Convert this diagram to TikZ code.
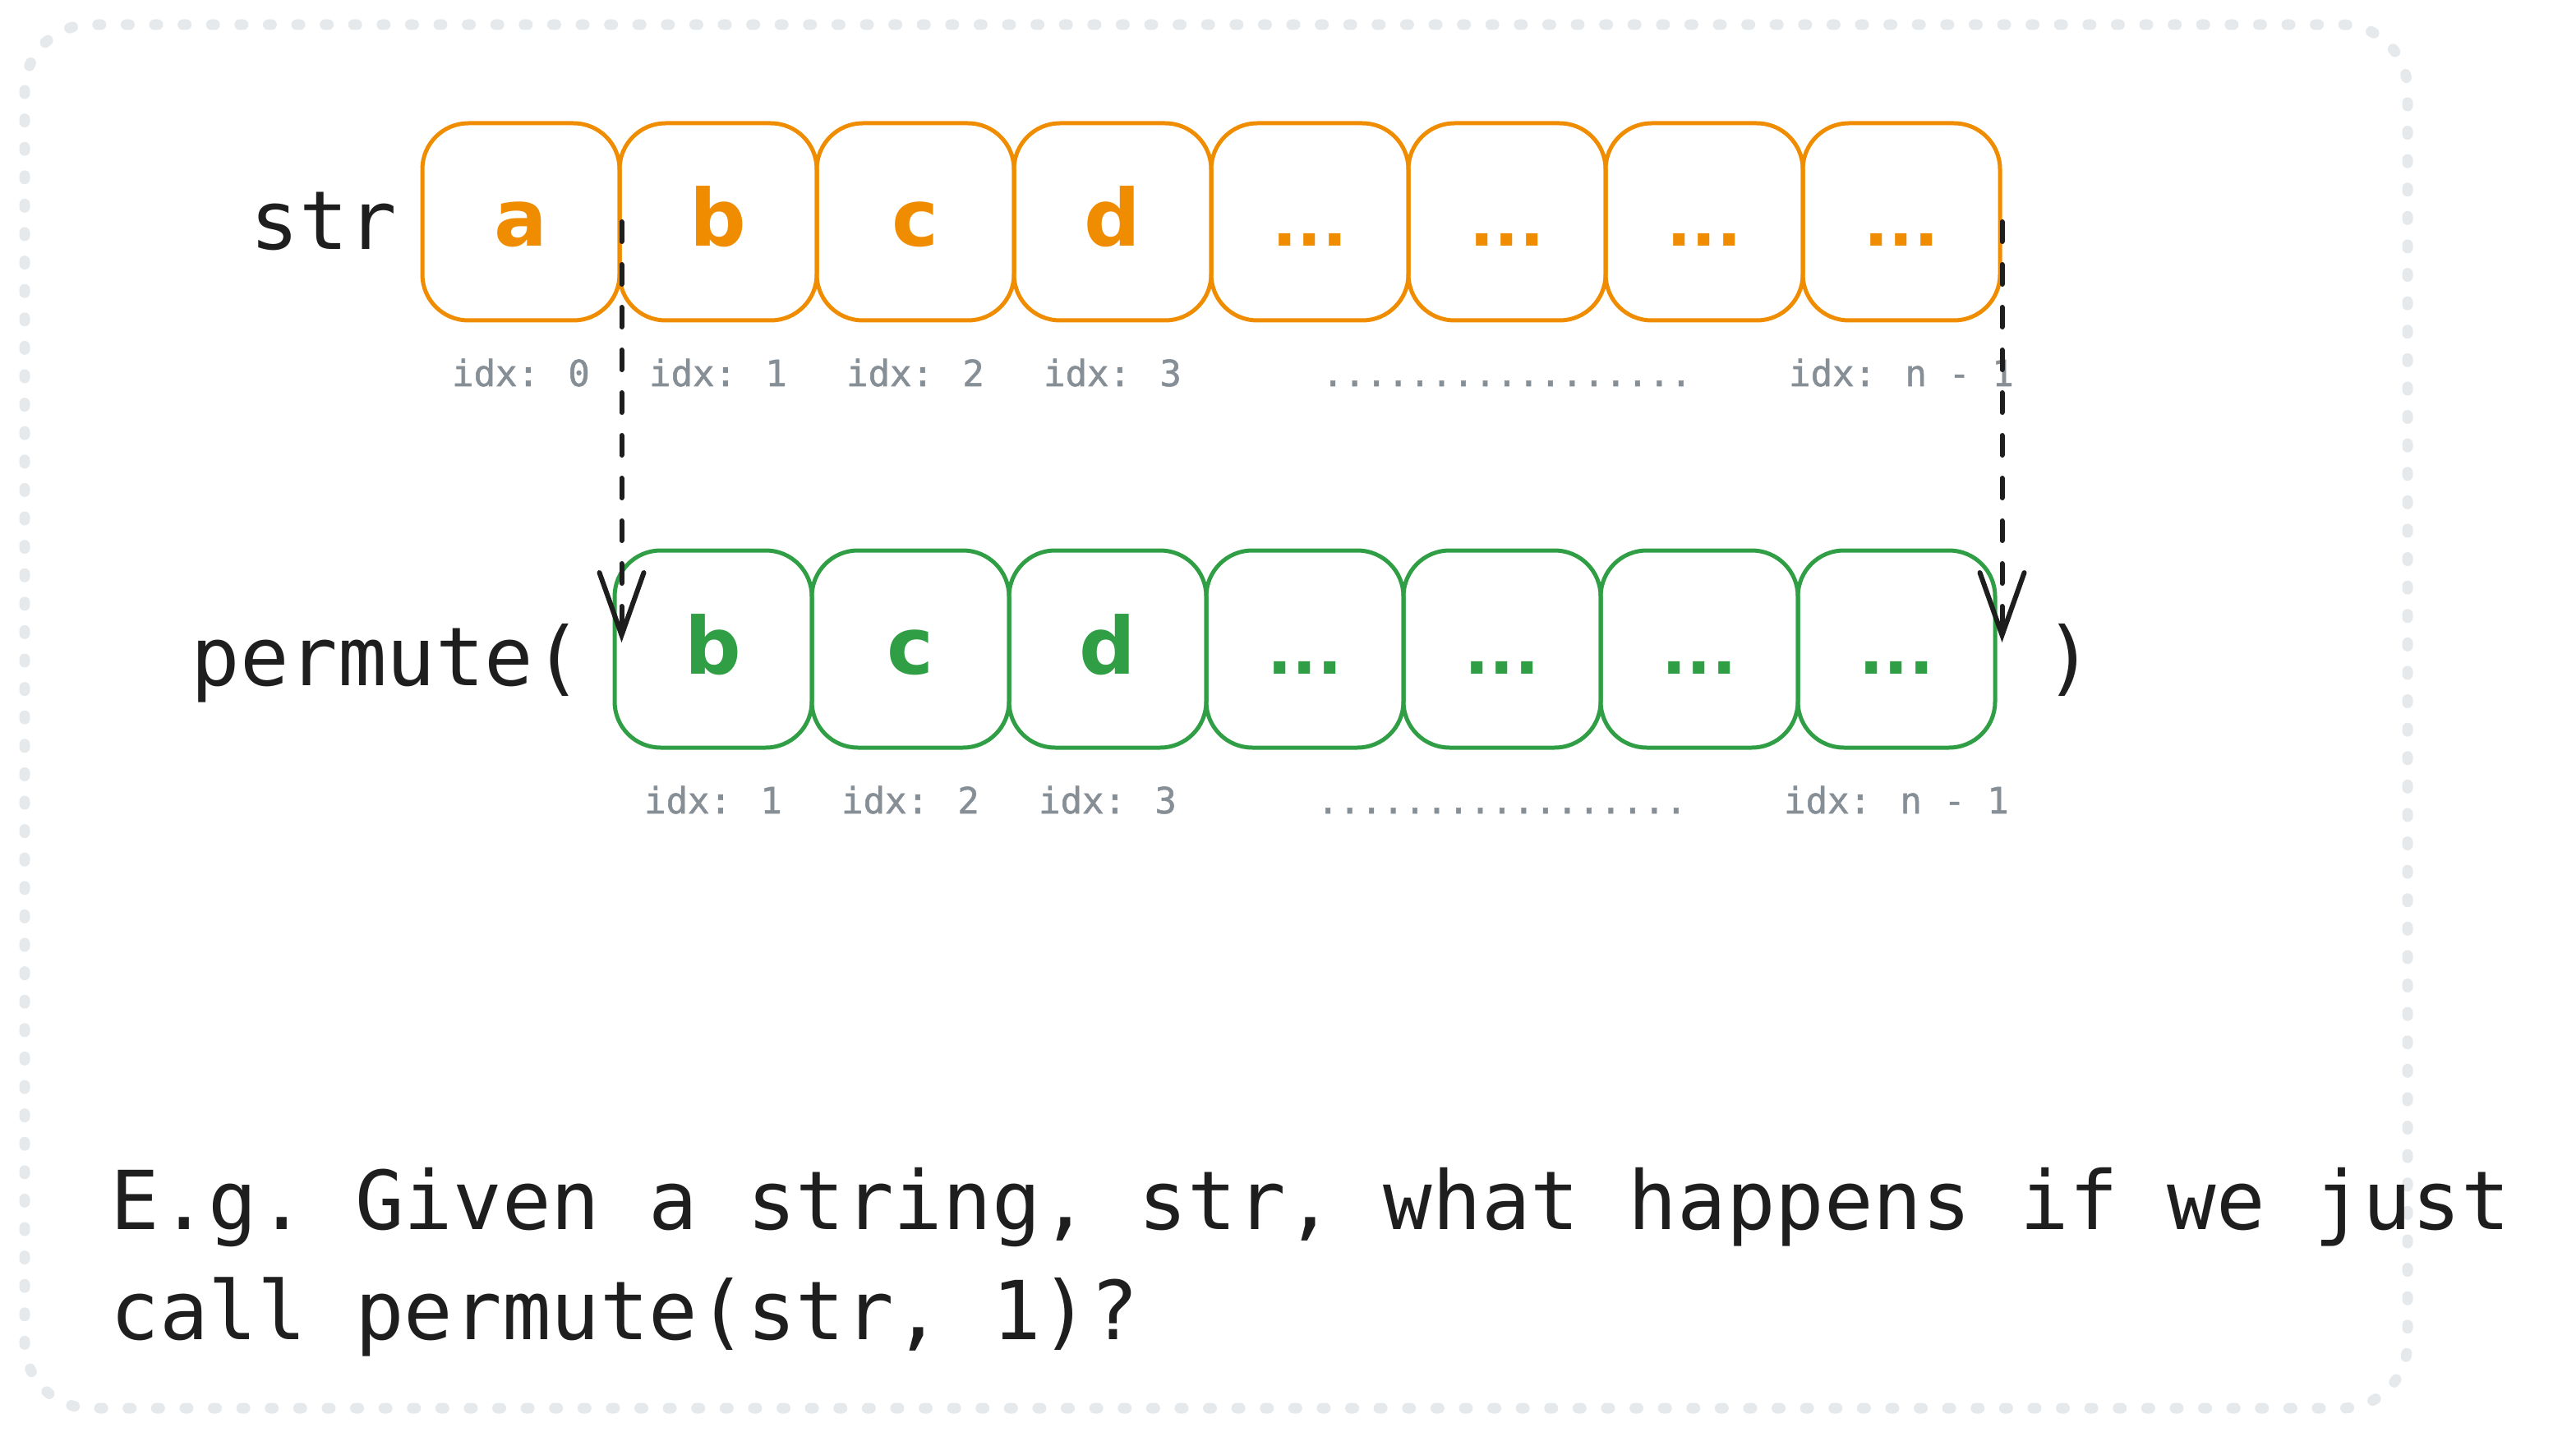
\documentclass[tikz,border=0pt]{standalone}
\usepackage{fontspec}
\setmonofont{DejaVu Sans Mono}
\newfontfamily\dvsans{DejaVu Sans}
\newfontfamily\idxfont{DejaVu Sans Mono}[FakeBold=1.2]
\usetikzlibrary{arrows.meta}
\definecolor{orng}{HTML}{F08C00}
\definecolor{grn}{HTML}{2F9E44}
\definecolor{idxgray}{HTML}{868E96}
\definecolor{ink}{HTML}{1E1E1E}
\definecolor{bord}{HTML}{E6E9EC}
\newcommand{\celldots}{{\fontsize{40}{40}\selectfont...}}
\begin{document}
\begin{tikzpicture}[x=1pt,y=-1pt,
  cell/.style={draw, line width=2.5pt, rounded corners=28pt, minimum width=120pt,
    minimum height=120pt, inner sep=0pt, text height=30pt, text depth=0pt,
    font=\dvsans\bfseries\fontsize{48}{48}\selectfont},
  topcell/.style={cell, draw=orng, text=orng},
  botcell/.style={cell, draw=grn, text=grn},
  idx/.style={anchor=base, inner sep=0pt, text=idxgray,
    font=\idxfont\fontsize{22}{22}\selectfont},
  bigtext/.style={anchor=base west, inner sep=0pt, text=ink,
    font=\ttfamily\fontsize{49.5}{67}\selectfont},
  dasharrow/.style={draw=ink, line width=3pt, line cap=round,
    dash pattern=on 12pt off 14pt, shorten >=4pt,
    -{Straight Barb[length=38pt,width=27pt,line cap=round]}}
]
\useasboundingbox (0,0) rectangle (1567.5,871.5);

% dotted frame
\draw[bord, line width=6.5pt, line cap=round, dash pattern=on 2pt off 15.3pt,
  rounded corners=40pt] (15,15) rectangle (1465,857);

% labels
\node[bigtext] (strlbl) at (152,152) {str};
\node[bigtext] (permlbl) at (116,417) {permute(};
\node[bigtext, anchor=base] (closep) at (1259,417) {)};

% top row
\node[topcell] (s1) at (317,135) {a};
\node[topcell] (s2) at (437,135) {b};
\node[topcell] (s3) at (557,135) {c};
\node[topcell] (s4) at (677,135) {d};
\node[topcell] (s5) at (797,135) {\celldots};
\node[topcell] (s6) at (917,135) {\celldots};
\node[topcell] (s7) at (1037,135) {\celldots};
\node[topcell] (s8) at (1157,135) {\celldots};

\node[idx] (i1) at (317,235) {idx: 0};
\node[idx] (i2) at (437,235) {idx: 1};
\node[idx] (i3) at (557,235) {idx: 2};
\node[idx] (i4) at (677,235) {idx: 3};
\node[idx] (idots) at (917,235) {.................};
\node[idx] (in) at (1157,235) {idx: n - 1};

% bottom row
\node[botcell] (g1) at (434,395) {b};
\node[botcell] (g2) at (554,395) {c};
\node[botcell] (g3) at (674,395) {d};
\node[botcell] (g4) at (794,395) {\celldots};
\node[botcell] (g5) at (914,395) {\celldots};
\node[botcell] (g6) at (1034,395) {\celldots};
\node[botcell] (g7) at (1154,395) {\celldots};

\node[idx] (j1) at (434,495) {idx: 1};
\node[idx] (j2) at (554,495) {idx: 2};
\node[idx] (j3) at (674,495) {idx: 3};
\node[idx] (jdots) at (914,495) {.................};
\node[idx] (jn) at (1154,495) {idx: n - 1};

% dashed arrows
\draw[dasharrow] (s1.east) -- (s1.east |- g1.west);
\draw[dasharrow] (s8.east) -- (s8.east |- g7.east);

% question
\node[bigtext] (q1) at (67,748) {E.g. Given a string, str, what happens if we just};
\node[bigtext] (q2) at (67,815) {call permute(str, 1)?};
\end{tikzpicture}
\end{document}
